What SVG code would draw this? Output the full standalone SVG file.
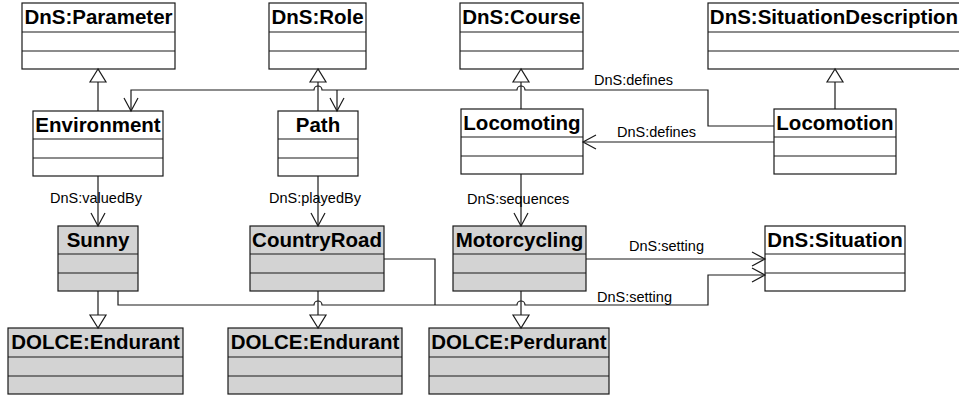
<svg xmlns="http://www.w3.org/2000/svg" width="959" height="396" viewBox="0 0 959 396">
<style>
.box{fill:#fff;stroke:#1a1a1a;stroke-width:1.2}
.g .box{fill:#d3d3d3}
.div{stroke:#1a1a1a;stroke-width:1.2}
.t{font-family:"Liberation Sans",Arial,sans-serif;font-weight:bold;font-size:20.5px;text-anchor:middle;fill:#000}
.c{fill:none;stroke:#1a1a1a;stroke-width:1.2}
.tri{fill:#fff;stroke:#1a1a1a;stroke-width:1.2}
.l{font-family:"Liberation Sans",Arial,sans-serif;font-size:14.5px;fill:#000}
</style>
<rect width="959" height="396" fill="#fff"/>
<g id="parameter"><rect class="box" x="22" y="3" width="153" height="66"/><line class="div" x1="22" y1="32" x2="175" y2="32"/><line class="div" x1="22" y1="51" x2="175" y2="51"/><text class="t" x="98.5" y="24">DnS:Parameter</text></g>
<g id="role"><rect class="box" x="269" y="3" width="97" height="66"/><line class="div" x1="269" y1="32" x2="366" y2="32"/><line class="div" x1="269" y1="51" x2="366" y2="51"/><text class="t" x="317.5" y="24">DnS:Role</text></g>
<g id="course"><rect class="box" x="460" y="3" width="123" height="66"/><line class="div" x1="460" y1="32" x2="583" y2="32"/><line class="div" x1="460" y1="51" x2="583" y2="51"/><text class="t" x="521.5" y="24">DnS:Course</text></g>
<g id="situationdescription"><rect class="box" x="708" y="3" width="255" height="66"/><line class="div" x1="708" y1="32" x2="963" y2="32"/><line class="div" x1="708" y1="51" x2="963" y2="51"/><text class="t" x="834" y="24">DnS:SituationDescription</text></g>
<g id="environment"><rect class="box" x="33" y="111" width="130" height="65"/><line class="div" x1="33" y1="139" x2="163" y2="139"/><line class="div" x1="33" y1="158" x2="163" y2="158"/><text class="t" x="98" y="132">Environment</text></g>
<g id="path"><rect class="box" x="278" y="111" width="80" height="65"/><line class="div" x1="278" y1="139" x2="358" y2="139"/><line class="div" x1="278" y1="158" x2="358" y2="158"/><text class="t" x="318" y="132">Path</text></g>
<g id="locomoting"><rect class="box" x="461" y="109" width="122" height="65"/><line class="div" x1="461" y1="137" x2="583" y2="137"/><line class="div" x1="461" y1="156" x2="583" y2="156"/><text class="t" x="522" y="130">Locomoting</text></g>
<g id="locomotion"><rect class="box" x="774" y="109" width="122" height="65"/><line class="div" x1="774" y1="137" x2="896" y2="137"/><line class="div" x1="774" y1="156" x2="896" y2="156"/><text class="t" x="835" y="130">Locomotion</text></g>
<g id="sunny" class="g"><rect class="box" x="58" y="226" width="80" height="65"/><line class="div" x1="58" y1="254" x2="138" y2="254"/><line class="div" x1="58" y1="273" x2="138" y2="273"/><text class="t" x="98" y="247">Sunny</text></g>
<g id="countryroad" class="g"><rect class="box" x="250" y="226" width="134" height="65"/><line class="div" x1="250" y1="254" x2="384" y2="254"/><line class="div" x1="250" y1="273" x2="384" y2="273"/><text class="t" x="317" y="247">CountryRoad</text></g>
<g id="motorcycling" class="g"><rect class="box" x="453" y="226" width="133" height="65"/><line class="div" x1="453" y1="254" x2="586" y2="254"/><line class="div" x1="453" y1="273" x2="586" y2="273"/><text class="t" x="519.5" y="247">Motorcycling</text></g>
<g id="situation"><rect class="box" x="765" y="226" width="140" height="65"/><line class="div" x1="765" y1="254" x2="905" y2="254"/><line class="div" x1="765" y1="273" x2="905" y2="273"/><text class="t" x="835" y="247">DnS:Situation</text></g>
<g id="endurant1" class="g"><rect class="box" x="8" y="328" width="175" height="66"/><line class="div" x1="8" y1="357" x2="183" y2="357"/><line class="div" x1="8" y1="376" x2="183" y2="376"/><text class="t" x="95.5" y="349">DOLCE:Endurant</text></g>
<g id="endurant2" class="g"><rect class="box" x="228" y="328" width="174" height="66"/><line class="div" x1="228" y1="357" x2="402" y2="357"/><line class="div" x1="228" y1="376" x2="402" y2="376"/><text class="t" x="315" y="349">DOLCE:Endurant</text></g>
<g id="perdurant" class="g"><rect class="box" x="429" y="328" width="180" height="66"/><line class="div" x1="429" y1="357" x2="609" y2="357"/><line class="div" x1="429" y1="376" x2="609" y2="376"/><text class="t" x="519" y="349">DOLCE:Perdurant</text></g>
<g id="connectors">
<!-- generalizations -->
<line class="c" x1="98" y1="111" x2="98" y2="82"/><polygon class="tri" points="98,69 90,82 106,82"/>
<line class="c" x1="318" y1="111" x2="318" y2="82"/><polygon class="tri" points="318,69 310,82 326,82"/>
<line class="c" x1="521" y1="109" x2="521" y2="82"/><polygon class="tri" points="521,69 513,82 529,82"/>
<line class="c" x1="835" y1="109" x2="835" y2="82"/><polygon class="tri" points="835,69 827,82 843,82"/>
<line class="c" x1="98" y1="291" x2="98" y2="315"/><polygon class="tri" points="98,328 90,315 106,315"/>
<line class="c" x1="318" y1="291" x2="318" y2="315"/><polygon class="tri" points="318,328 310,315 326,315"/>
<line class="c" x1="521" y1="291" x2="521" y2="315"/><polygon class="tri" points="521,328 513,315 529,315"/>
<!-- defines (top) -->
<path class="c" d="M774,126 H708 V90 H525 A4,4 0 0 0 517,90 H322 A4,4 0 0 0 314,90 H131 V111"/>
<path class="c" d="M124,98 L131,111 L138,98"/>
<path class="c" d="M337,90 V111"/>
<path class="c" d="M330,98 L337,111 L344,98"/>
<text class="l" x="594" y="85">DnS:defines</text>
<!-- defines (second) -->
<line class="c" x1="774" y1="142" x2="583" y2="142"/>
<path class="c" d="M596,135 L583,142 L596,149"/>
<text class="l" x="617" y="137">DnS:defines</text>
<!-- valuedBy -->
<line class="c" x1="98" y1="176" x2="98" y2="226"/>
<path class="c" d="M91,213 L98,226 L105,213"/>
<text class="l" x="50" y="203">DnS:valuedBy</text>
<!-- playedBy -->
<line class="c" x1="318" y1="176" x2="318" y2="226"/>
<path class="c" d="M311,213 L318,226 L325,213"/>
<text class="l" x="269" y="203">DnS:playedBy</text>
<!-- sequences -->
<line class="c" x1="521" y1="174" x2="521" y2="226"/>
<path class="c" d="M514,213 L521,226 L528,213"/>
<text class="l" x="467" y="204">DnS:sequences</text>
<!-- setting (Motorcycling) -->
<line class="c" x1="586" y1="259" x2="765" y2="259"/>
<path class="c" d="M752,252 L765,259 L752,266"/>
<text class="l" x="629" y="251">DnS:setting</text>
<!-- setting (Sunny, CountryRoad) -->
<path class="c" d="M118,291 V305 H314 A4,4 0 0 1 322,305 H517 A4,4 0 0 1 525,305 H708 V275 H765"/>
<path class="c" d="M384,259 H435 V305"/>
<path class="c" d="M752,268 L765,275 L752,282"/>
<text class="l" x="597" y="302">DnS:setting</text>
</g>
</svg>
